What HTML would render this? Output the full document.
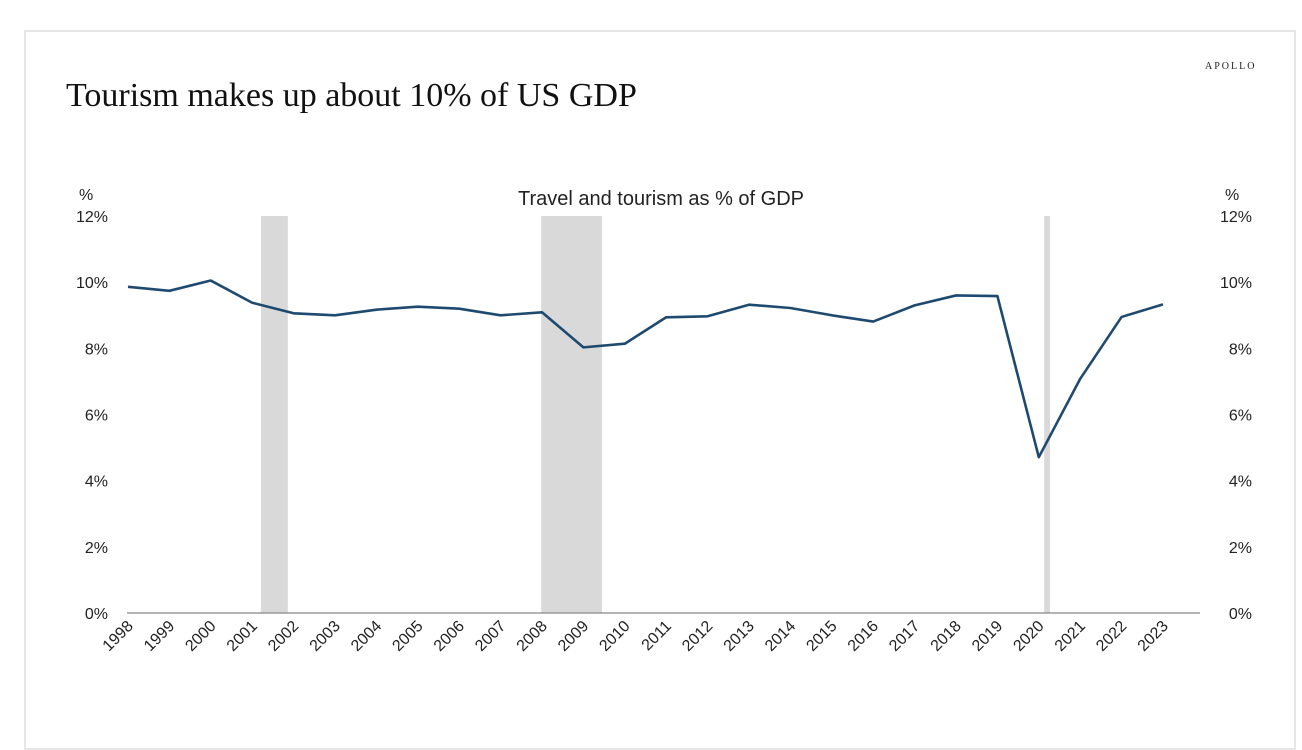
<!DOCTYPE html>
<html><head><meta charset="utf-8">
<style>
html,body{margin:0;padding:0;background:#fff;}
body{width:1302px;height:728px;overflow:hidden;position:relative;}
.frame{position:absolute;left:24px;top:30px;width:1272px;height:720px;border:2px solid #e6e6e6;box-sizing:border-box;}
.title{position:absolute;left:66px;top:77px;font-family:"Liberation Serif",serif;font-size:34px;color:#111;}
.logo{position:absolute;left:1205px;top:61px;font-family:"Liberation Serif",serif;font-size:10px;letter-spacing:2px;color:#222;}
svg{position:absolute;left:0;top:0;}
svg text{font-family:"Liberation Sans",sans-serif;fill:#222;}
</style></head><body>
<div class="frame"></div>
<div class="title">Tourism makes up about 10% of US GDP</div>
<div class="logo">APOLLO</div>
<svg id="chart" width="1302" height="728"></svg>
<script>
const years=[1998,1999,2000,2001,2002,2003,2004,2005,2006,2007,2008,2009,2010,2011,2012,2013,2014,2015,2016,2017,2018,2019,2020,2021,2022,2023];
const values=[9.86,9.74,10.05,9.38,9.06,9.00,9.17,9.26,9.20,9.00,9.09,8.03,8.14,8.94,8.97,9.32,9.22,9.00,8.81,9.30,9.60,9.58,4.71,7.08,8.95,9.33];
const recessions=[[2001.21,2001.86],[2007.98,2009.45],[2020.13,2020.27]];
const yTicks=[0,2,4,6,8,10,12];
const NS='http://www.w3.org/2000/svg';
const svg=document.getElementById('chart');
const x=v=>128+(v-1998)*41.4;
const y=v=>613-v*33.08;
function mk(tag,attrs,txt){const e=document.createElementNS(NS,tag);for(const k in attrs)e.setAttribute(k,attrs[k]);if(txt!==undefined)e.textContent=txt;svg.appendChild(e);return e;}
recessions.forEach(r=>{
 const e=mk('rect',{x:x(r[0]),y:y(12),width:x(r[1])-x(r[0]),height:y(0)-y(12),fill:'#d9d9d9'});
 
 
});
const ax=mk('line',{x1:127,x2:1200,y1:y(0),y2:y(0),stroke:'#888','stroke-width':1.3});


yTicks.forEach(t=>{
 const l=mk('text',{x:108,y:y(t)+6,'text-anchor':'end','font-size':16},t+'%');
 
 
 const r=mk('text',{x:1252,y:y(t)+6,'text-anchor':'end','font-size':16},t+'%');
 
 
});
const u1=mk('text',{x:79,y:200,'font-size':16},'%');


const u2=mk('text',{x:1225,y:200,'font-size':16},'%');


const st=mk('text',{x:661,y:205,'text-anchor':'middle','font-size':20},'Travel and tourism as % of GDP');


years.forEach(yr=>{
 const px=x(yr)+6,py=627;
 const t=mk('text',{x:px,y:py,'text-anchor':'end','font-size':16,transform:`rotate(-45 ${px} ${py})`},String(yr));
 
 
});
const pts=years.map((yr,i)=>x(yr)+','+y(values[i])).join(' ');
const line=mk('polyline',{points:pts,fill:'none',stroke:'#1f4a70','stroke-width':2.6,'stroke-linejoin':'round'});


</script>
</body></html>
